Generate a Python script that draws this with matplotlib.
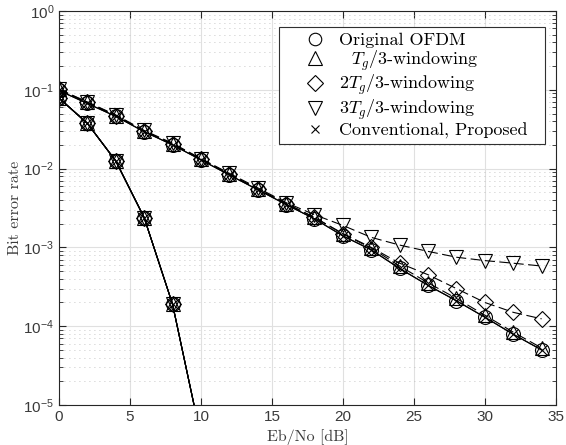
import matplotlib
matplotlib.use("Agg")
import matplotlib.pyplot as plt
from matplotlib.lines import Line2D
from matplotlib.ticker import LogLocator, MultipleLocator, NullLocator

plt.rcParams['mathtext.fontset'] = 'custom'
plt.rcParams['mathtext.rm'] = 'Liberation Sans'
plt.rcParams['mathtext.it'] = 'Liberation Sans:italic'
plt.rcParams['font.family'] = 'Liberation Sans'

# ---- data ----
snr_awgn = [0, 2, 4, 6, 8, 10]
ber_awgn = [0.0786, 0.0375, 0.0125, 0.00239, 1.9e-4, 3.9e-6]

snr = [0, 2, 4, 6, 8, 10, 12, 14, 16, 18, 20, 22, 24, 26, 28, 30, 32, 34]
ber_original = [0.098, 0.067, 0.046, 0.0294, 0.020, 0.0129, 0.0083, 0.0054,
                0.0035, 0.0023, 0.0014, 9.3e-4, 5.4e-4, 3.3e-4, 2.1e-4,
                1.3e-4, 7.9e-5, 5.0e-5]
ber_tg1 = [0.101, 0.069, 0.047, 0.0300, 0.0205, 0.0132, 0.0085, 0.0055,
           0.0036, 0.0024, 0.00148, 9.8e-4, 5.8e-4, 3.55e-4, 2.25e-4,
           1.38e-4, 8.4e-5, 5.3e-5]
ber_tg2 = [0.101, 0.069, 0.047, 0.0300, 0.0205, 0.0132, 0.0085, 0.0055,
           0.0036, 0.0024, 0.00150, 1.0e-3, 6.3e-4, 4.5e-4, 3.0e-4,
           2.0e-4, 1.5e-4, 1.24e-4]
ber_tg3 = [0.102, 0.070, 0.048, 0.0305, 0.021, 0.0134, 0.0087, 0.0057,
           0.0037, 0.0026, 0.0019, 0.00134, 0.00107, 8.9e-4, 7.5e-4,
           6.8e-4, 6.3e-4, 5.8e-4]

legend_labels = ['Original OFDM', r'  $T_g$/3-windowing', r'2$T_g$/3-windowing',
                 r'3$T_g$/3-windowing', 'Conventional, Proposed  ']
markers = ['o', '^', 'D', 'v', 'x']
marker_sizes = [10, 10, 8, 10, 7]

fig = plt.figure(figsize=(5.66, 4.45), dpi=100)
ax = fig.add_axes([0.1042, 0.0899, 0.8778, 0.8854])

lw = 0.8
# steep curves (all schemes overlapping)
for m, ms in zip(markers, marker_sizes):
    ax.semilogy(snr_awgn, ber_awgn, '-', color='black', lw=lw, marker=m, ms=ms,
                mfc='none', mec='black', mew=lw)

# slow-decaying curves
ax.semilogy(snr, ber_original, '-', color='black', lw=lw, marker='o', ms=10,
            mfc='none', mec='black', mew=lw)
ax.semilogy(snr, ber_original, '-', color='black', lw=lw, marker='x', ms=7,
            mfc='none', mec='black', mew=lw)
dash = (0, (9, 4))
ax.semilogy(snr, ber_tg1, color='black', lw=lw, ls=dash, marker='^', ms=10,
            mfc='none', mec='black', mew=lw)
ax.semilogy(snr, ber_tg2, color='black', lw=lw, ls=dash, marker='D', ms=8,
            mfc='none', mec='black', mew=lw)
ax.semilogy(snr, ber_tg3, color='black', lw=lw, ls=dash, marker='v', ms=10,
            mfc='none', mec='black', mew=lw)

ax.set_xlim(0, 35)
ax.set_ylim(1e-5, 1)
ax.xaxis.set_major_locator(MultipleLocator(5))
ax.xaxis.set_minor_locator(NullLocator())
ax.yaxis.set_major_locator(LogLocator(base=10, numticks=10))
ax.yaxis.set_minor_locator(LogLocator(base=10, subs=[2, 3, 4, 5, 6, 7, 8, 9], numticks=10))

ax.grid(True, which='major', color='#e0e0e0', lw=0.8, ls='-')
ax.grid(True, which='minor', axis='y', color='#b4b4b4', lw=0.6, ls=(0, (1, 5)))
ax.set_axisbelow(True)

axcol = '#262626'
for s in ax.spines.values():
    s.set_color(axcol)
    s.set_linewidth(0.8)
ax.tick_params(which='both', direction='in', top=True, right=True, colors=axcol,
               labelsize=11, labelcolor='#3a3a3a')
ax.tick_params(which='major', length=5, width=0.8)
ax.tick_params(which='minor', length=3, width=0.6)

ax.set_xlabel('Eb/No [dB]', family='cmr10', fontsize=11.5, color='#3a3a3a', labelpad=4)
ax.set_ylabel('Bit error rate', family='cmr10', fontsize=11.5, color='#3a3a3a', labelpad=1)

handles = [Line2D([], [], ls='none', marker=m, ms=ms, mfc='none',
                  mec='black', mew=lw) for m, ms in zip(markers, [9, 10, 8, 10, 6])]
leg = ax.legend(handles, legend_labels, loc='upper left',
                bbox_to_anchor=(0.4427, 0.9594),
                prop={'family': 'cmr10', 'size': 13, 'math_fontfamily': 'cm'},
                frameon=True, fancybox=False, framealpha=1, edgecolor='#303030',
                handlelength=3.4, handletextpad=-0.38, labelspacing=0.02,
                borderpad=0.3, borderaxespad=0)
leg.get_frame().set_linewidth(0.8)

fig.savefig('out.png', dpi=100)
